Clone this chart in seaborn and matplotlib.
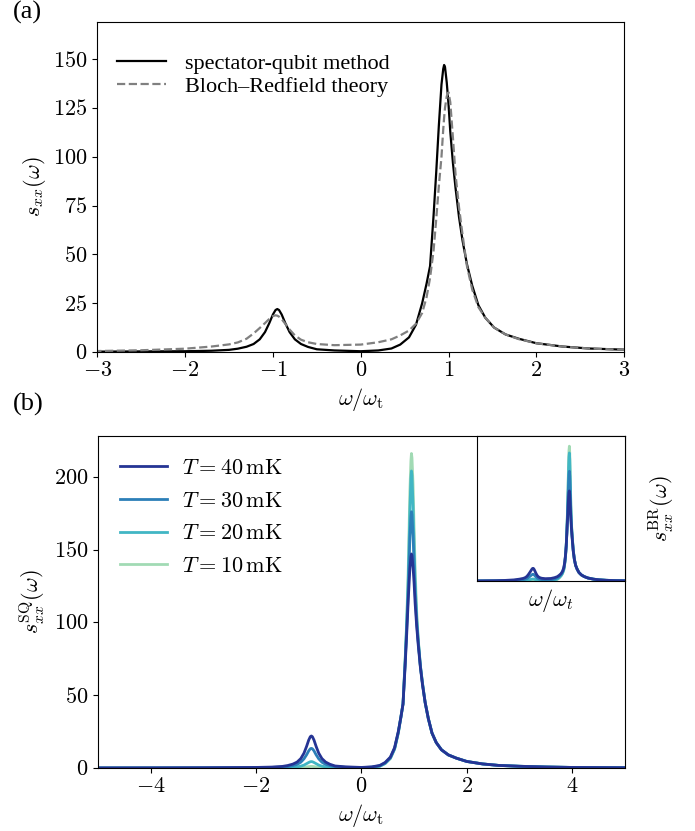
import matplotlib
matplotlib.use("Agg")
import matplotlib.pyplot as plt
import pandas as pd
import seaborn as sns

# frequency grid (omega / omega_t), denser around the two peaks
omega = [-5.0, -4.0, -3.0, -2.5, -2.0, -1.7, -1.5, -1.4, -1.3, -1.22,
         -1.15, -1.09, -1.04, -1.0, -0.97, -0.95, -0.93, -0.9, -0.86, -0.81,
         -0.75, -0.68, -0.6, -0.5, -0.3, 0.0, 0.2, 0.35, 0.45, 0.55,
         0.63, 0.7, 0.75, 0.79, 0.83, 0.86, 0.89, 0.92, 0.94, 0.95,
         0.96, 0.98, 1.0, 1.02, 1.05, 1.08, 1.12, 1.16, 1.21, 1.27,
         1.34, 1.42, 1.52, 1.65, 1.8, 2.0, 2.3, 2.6, 3.0, 3.5,
         4.0, 5.0]

# common high-frequency tails (omega >= 1.34)
sq_tail = [24.0, 17.5, 12.5, 9.0, 6.8, 4.5, 2.8, 1.8, 1.2, 0.7, 0.4, 0.2]
br_tail = [23.0, 17.5, 12.5, 9.0, 6.6, 4.5, 2.8, 1.8, 1.1, 0.6, 0.4, 0.2]

# spectator-qubit spectra
sq_40mK = [0.05, 0.1, 0.2, 0.3, 0.4, 0.65, 1.1, 1.7, 2.7, 4.1,
           6.5, 10.2, 14.9, 19.2, 21.5, 22.0, 21.5, 19.2, 14.9, 10.2,
           6.5, 4.1, 2.6, 1.4, 0.8, 0.4, 0.8, 1.8, 3.8, 7.5,
           14.0, 25.0, 35.0, 44.0, 70.0, 92.0, 116.0, 137.0, 145.0, 147.0,
           146.0, 138.0, 127.0, 113.0, 97.0, 84.0, 69.0, 57.0, 45.0, 34.0] + sq_tail
sq_30mK = [0.03, 0.05, 0.1, 0.15, 0.25, 0.4, 0.7, 1.0, 1.7, 2.5,
           4.0, 6.3, 9.1, 11.8, 13.2, 13.5, 13.2, 11.8, 9.1, 6.3,
           4.0, 2.5, 1.7, 1.0, 0.5, 0.3, 0.6, 1.5, 3.4, 7.0,
           13.5, 24.5, 35.0, 44.0, 72.0, 96.0, 122.0, 158.0, 172.0, 176.0,
           174.0, 160.0, 140.0, 120.0, 100.0, 86.0, 70.0, 58.0, 45.0, 34.0] + sq_tail
sq_20mK = [0.01, 0.02, 0.04, 0.06, 0.08, 0.13, 0.2, 0.35, 0.55, 0.8,
           1.3, 2.0, 3.0, 3.8, 4.3, 4.4, 4.3, 3.8, 3.0, 2.0,
           1.3, 0.8, 0.55, 0.35, 0.2, 0.15, 0.5, 1.3, 3.1, 6.7,
           13.0, 24.0, 35.0, 44.0, 73.0, 99.0, 130.0, 176.0, 199.0, 204.0,
           201.0, 180.0, 152.0, 127.0, 103.0, 87.0, 70.0, 58.0, 45.0, 34.0] + sq_tail
sq_10mK = [0.0, 0.0, 0.01, 0.01, 0.02, 0.03, 0.05, 0.08, 0.13, 0.2,
           0.33, 0.5, 0.75, 0.95, 1.07, 1.1, 1.07, 0.95, 0.75, 0.5,
           0.33, 0.2, 0.13, 0.08, 0.05, 0.05, 0.4, 1.2, 3.0, 6.5,
           13.0, 24.0, 35.0, 44.0, 74.0, 101.0, 138.0, 190.0, 211.0, 216.0,
           213.0, 195.0, 165.0, 136.0, 107.0, 88.0, 70.0, 58.0, 45.0, 34.0] + sq_tail

# Bloch-Redfield spectra
br_40mK = [0.1, 0.2, 0.5, 0.9, 1.7, 2.8, 3.9, 4.9, 6.8, 9.5,
           12.3, 14.8, 17.0, 18.4, 18.8, 18.6, 18.1, 16.8, 14.5, 11.5,
           8.5, 6.3, 5.0, 4.1, 3.5, 3.8, 5.0, 6.5, 8.5, 11.0,
           14.5, 20.0, 28.0, 38.0, 52.0, 68.0, 85.0, 100.0, 114.0, 120.0,
           125.0, 131.0, 133.0, 128.0, 110.0, 91.0, 74.0, 60.0, 44.0, 32.0] + br_tail
br_30mK = [0.05, 0.1, 0.3, 0.5, 0.9, 1.5, 2.1, 2.6, 3.6, 5.0,
           6.5, 7.9, 9.0, 9.8, 10.0, 9.9, 9.6, 8.9, 7.7, 6.1,
           4.5, 3.4, 2.7, 2.2, 1.8, 1.9, 3.0, 4.8, 6.8, 9.5,
           13.0, 18.5, 27.0, 37.0, 52.0, 70.0, 90.0, 113.0, 130.0, 138.0,
           146.0, 157.0, 162.0, 155.0, 128.0, 100.0, 78.0, 62.0, 45.0, 32.0] + br_tail
br_20mK = [0.02, 0.05, 0.1, 0.15, 0.3, 0.45, 0.6, 0.8, 1.1, 1.5,
           1.95, 2.4, 2.7, 2.95, 3.0, 3.0, 2.9, 2.7, 2.3, 1.8,
           1.35, 1.0, 0.8, 0.65, 0.5, 0.7, 1.5, 3.0, 5.0, 8.0,
           11.5, 17.0, 26.0, 36.0, 52.0, 71.0, 94.0, 122.0, 145.0, 157.0,
           168.0, 183.0, 189.0, 180.0, 146.0, 108.0, 80.0, 63.0, 46.0, 32.0] + br_tail
br_10mK = [0.0, 0.01, 0.02, 0.04, 0.07, 0.1, 0.15, 0.18, 0.25, 0.35,
           0.45, 0.55, 0.63, 0.68, 0.7, 0.7, 0.68, 0.63, 0.55, 0.42,
           0.32, 0.24, 0.18, 0.15, 0.1, 0.2, 0.9, 2.5, 4.5, 7.5,
           11.0, 16.5, 25.5, 36.0, 52.0, 72.0, 96.0, 127.0, 152.0, 165.0,
           177.0, 193.0, 199.0, 189.0, 152.0, 112.0, 81.0, 64.0, 46.0, 32.0] + br_tail

temperatures = ["10", "20", "30", "40"]
colors = ["#a1dab4", "#41b6c4", "#2c7fb8", "#253494"]
sq_curves = [sq_10mK, sq_20mK, sq_30mK, sq_40mK]
br_curves = [br_10mK, br_20mK, br_30mK, br_40mK]

xticks_a = [-3, -2, -1, 0, 1, 2, 3]
yticks_a = [0, 25, 50, 75, 100, 125, 150]
xticks_b = [-4, -2, 0, 2, 4]
yticks_b = [0, 50, 100, 150, 200]

plt.rcParams['mathtext.fontset'] = 'cm'
plt.rcParams['font.family'] = ['Liberation Serif', 'DejaVu Serif']
plt.rcParams['font.size'] = 16

fig = plt.figure(figsize=(6.95, 8.31), dpi=100)
ax_a = fig.add_axes([0.14, 0.5764, 0.758, 0.3971])
ax_b = fig.add_axes([0.141, 0.0758, 0.758, 0.3995])
ax_in = fig.add_axes([0.6863, 0.3008, 0.2127, 0.1745])

# ---- panel (a)
df_a = pd.DataFrame({'omega': omega, 'sq': sq_40mK, 'br': br_40mK})
sns.lineplot(data=df_a, x='omega', y='sq', ax=ax_a, color='black', lw=1.6,
             label='spectator-qubit method', estimator=None)
sns.lineplot(data=df_a, x='omega', y='br', ax=ax_a, color='#808080', lw=1.6,
             linestyle='--', label='Bloch–Redfield theory', estimator=None)
ax_a.set_xlim(-3, 3)
ax_a.set_ylim(0, 169)
ax_a.set_xticks(xticks_a, labels=[f"${t}$" for t in xticks_a])
ax_a.set_yticks(yticks_a, labels=[f"${t}$" for t in yticks_a])
ax_a.set_xlabel(r"$\omega/\omega_{\rm t}$")
ax_a.set_ylabel(r"$s_{xx}(\omega)$")
ax_a.legend(frameon=False, loc='upper left', bbox_to_anchor=(0.0, 0.965),
            labelspacing=0.1, handlelength=2.2, handletextpad=0.85,
            borderaxespad=0.5)

# ---- panel (b) and its inset
for temp, col, sq, br in zip(temperatures, colors, sq_curves, br_curves):
    d = pd.DataFrame({'omega': omega, 'sq': sq, 'br': br})
    sns.lineplot(data=d, x='omega', y='sq', ax=ax_b, color=col, lw=2,
                 label=rf"$T = {temp}\,\mathrm{{mK}}$", estimator=None)
    sns.lineplot(data=d, x='omega', y='br', ax=ax_in, color=col, lw=2,
                 legend=False, estimator=None)

ax_b.set_xlim(-5, 5)
ax_b.set_ylim(0, 228)
ax_b.set_xticks(xticks_b, labels=[f"${t}$" for t in xticks_b])
ax_b.set_yticks(yticks_b, labels=[f"${t}$" for t in yticks_b])
ax_b.set_xlabel(r"$\omega/\omega_{\rm t}$")
ax_b.set_ylabel(r"$s_{xx}^{\rm SQ}(\omega)$")
handles, labels = ax_b.get_legend_handles_labels()
ax_b.legend(handles[::-1], labels[::-1], frameon=False, loc='upper left',
            labelspacing=0.55, handlelength=2.1, handletextpad=0.7,
            borderaxespad=0.6)

ax_in.set_xlim(-4, 4)
ax_in.set_ylim(0, 214)
ax_in.set_xticks([])
ax_in.set_yticks([])
ax_in.set_xlabel(r"$\omega/\omega_t$")
ax_in.yaxis.set_label_position('right')
ax_in.set_ylabel(r"$s_{xx}^{\rm BR}(\omega)$", labelpad=16)

fig.text(0.018, 0.999, "(a)", va='top', ha='left', fontsize=19)
fig.text(0.018, 0.527, "(b)", va='top', ha='left', fontsize=19)

fig.savefig("out.png", dpi=100)
